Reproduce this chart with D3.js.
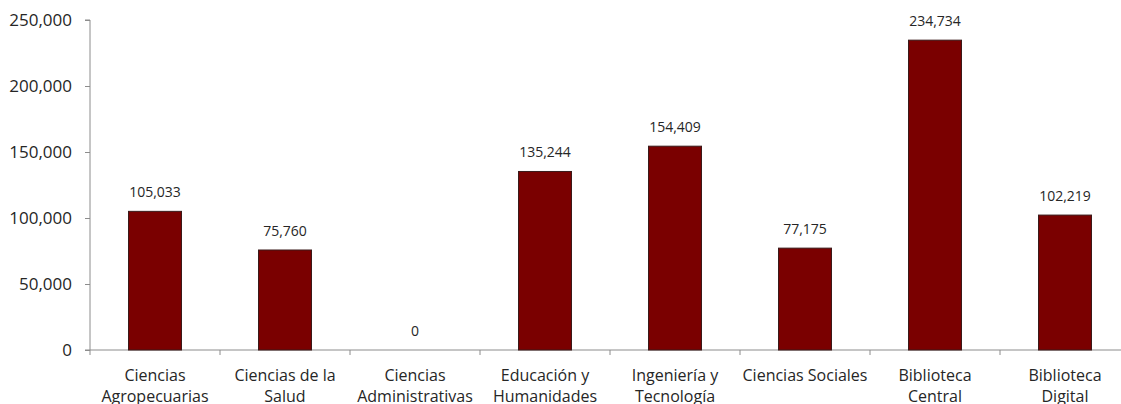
<!DOCTYPE html>
<html>
<head>
<meta charset="utf-8">
<script src="https://cdn.jsdelivr.net/npm/d3@7"></script>
<style>
  html, body { margin: 0; padding: 0; background: #fff; }
  svg { display: block; }
  text { font-family: "Open Sans", sans-serif; fill: #262626; }
</style>
</head>
<body>
<svg id="chart" width="1121" height="404"></svg>
<script>
const categories = [
  "Ciencias\nAgropecuarias",
  "Ciencias de la\nSalud",
  "Ciencias\nAdministrativas",
  "Educación y\nHumanidades",
  "Ingeniería y\nTecnología",
  "Ciencias Sociales",
  "Biblioteca\nCentral",
  "Biblioteca\nDigital"
];
const values = [105033, 75760, 0, 135244, 154409, 77175, 234734, 102219];
const yTicks = [0, 50000, 100000, 150000, 200000, 250000];

(function () {
const svg = d3.select("#chart");
const mLeft = 90, mRight = 1130, mTop = 20, mBottom = 350;

const x = d3.scaleBand().domain(categories).range([mLeft, mRight]).paddingInner(0).paddingOuter(0);
const y = d3.scaleLinear().domain([0, 250000]).range([mBottom, mTop]);
const fmt = d3.format(",");
const barW = 53;

// Y axis
const yAxis = svg.append("g").attr("transform", `translate(${mLeft},0)`)
  .call(d3.axisLeft(y).tickValues(yTicks).tickFormat(fmt).tickSize(5).tickPadding(13));
yAxis.select(".domain").attr("stroke", "#8c8c8c").attr("d", `M-5,${mTop}H0V${mBottom}H-5`);
yAxis.selectAll(".tick line").attr("stroke", "#8c8c8c");
yAxis.selectAll(".tick text").style("font-size", "17px").style("font-family", "Open Sans, sans-serif").attr("fill", "#262626");

// X axis
const xAxis = svg.append("g").attr("transform", `translate(0,${mBottom})`)
  .call(d3.axisBottom(x).tickSize(0).tickFormat(""));
xAxis.select(".domain").attr("stroke", "#8c8c8c").attr("d", `M${mLeft},0H${mRight}`);
xAxis.selectAll(".tick text").remove();
const bounds = categories.map(c => x(c)).concat([mRight]);
xAxis.selectAll(".bt").data(bounds).enter().append("line")
  .attr("x1", d => d).attr("x2", d => d).attr("y1", 0).attr("y2", 5)
  .attr("stroke", "#8c8c8c");

// Category labels
const labels = svg.append("g");
categories.forEach(c => {
  const lines = c.split("\n");
  const cx = x(c) + x.bandwidth() / 2;
  const t = labels.append("text")
    .attr("text-anchor", "middle")
    .attr("x", cx)
    .attr("y", 381)
    .style("font-size", "16px");
  lines.forEach((ln, i) => {
    t.append("tspan").attr("x", cx).attr("dy", i === 0 ? 0 : 21).text(ln);
  });
});

// Bars
svg.append("g").selectAll("rect").data(values).enter().append("rect")
  .attr("x", (d, i) => x(categories[i]) + x.bandwidth() / 2 - barW / 2)
  .attr("width", barW)
  .attr("y", d => y(d))
  .attr("height", d => y(0) - y(d))
  .attr("fill", "#7a0000")
  .attr("stroke", d => d > 0 ? "#3a1a1a" : "none")
  .attr("stroke-width", 1);

// Data labels
svg.append("g").selectAll("text").data(values).enter().append("text")
  .attr("text-anchor", "middle")
  .attr("x", (d, i) => x(categories[i]) + x.bandwidth() / 2)
  .attr("y", d => y(d) - 14)
  .style("font-size", "14px")
  .text(d => fmt(d));
})();
</script>
</body>
</html>
